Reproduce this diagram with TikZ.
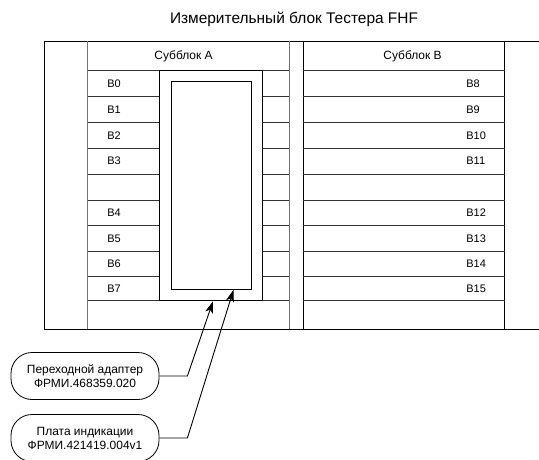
\documentclass[tikz,border=0pt]{standalone}
\usepackage{fontspec}
\setmainfont{Liberation Sans}
\usetikzlibrary{arrows.meta}
\begin{document}
\begin{tikzpicture}[x=1bp,y=-1bp,line width=0.8bp,
  frame/.style={draw=black,line width=0.9bp},
  gridv/.style={draw=black!55,line width=0.9bp},
  gridh/.style={draw=black!80,line width=0.8bp},
  lbl/.style={inner sep=0pt,font=\fontsize{11}{13}\selectfont},
  hdr/.style={inner sep=0pt,anchor=base,font=\fontsize{12}{14}\selectfont},
  plate/.style={draw=black,fill=white,line width=1.1bp,inner sep=0pt},
  bubble/.style={draw=black,line width=0.8bp,rounded corners=21bp,minimum width=148bp,minimum height=47bp,inner sep=0pt,align=center,font=\fontsize{12}{14}\selectfont},
  arr/.style={draw=black,line width=0.9bp,-{Stealth[length=12bp,width=8bp,inset=3bp]}}]
\useasboundingbox (0,0) rectangle (539,460);
% title
\node[inner sep=0pt,anchor=base,font=\fontsize{15.5}{18}\selectfont] (title) at (294,24) {Измерительный блок Тестера FHF};
% outer frame (open to the right)
\draw[frame] (539,41) -- (44.7,41) -- (44.7,329) -- (539,329);
% column borders
\draw[gridv] (87.7,41) -- (87.7,329);
\draw[gridv] (289.3,41) -- (289.3,329);
\draw[frame] (303.3,41) -- (303.3,329);
\draw[frame] (504.7,41) -- (504.7,329);
% row lines
\foreach \yy in {70.7,96.3,122.3,148,174,200,225.7,251.7,276,300.7}{
  \draw[gridh] (87.7,\yy) -- (289.3,\yy);
  \draw[gridh] (303.3,\yy) -- (504.7,\yy);
}
% headers
\node[hdr] (hA) at (183.5,60) {Субблок A};
\node[hdr] (hB) at (412.5,60) {Субблок B};
% labels left
\foreach \n/\yy in {0/87.4,1/113.2,2/139.05,3/164.9,4/216.75,5/242.6,6/267.75,7/292.25}{
  \node[lbl,anchor=base west] (b\n) at (107,\yy) {B\n};
}
% labels right
\foreach \n/\yy in {8/87.4,9/113.2,10/139.05,11/164.9,12/216.75,13/242.6,14/267.75,15/292.25}{
  \node[lbl,anchor=base west] (b\n) at (466,\yy) {B\n};
}
% adapter and indication board
\node[plate,minimum width=103.4bp,minimum height=230bp] (adapter) at (211,185.7) {};
\node[plate,minimum width=80.4bp,minimum height=207.6bp] (board) at (211.5,185.5) {};
% callouts
\node[bubble] (bub1) at (85,376) {Переходной адаптер\\ФРМИ.468359.020};
\node[bubble] (bub2) at (85,438) {Плата индикации\\ФРМИ.421419.004v1};
\path (adapter.south) ++(2,0) coordinate (t1);
\path (board.south) ++(22,0) coordinate (t2);
\draw[arr] (bub1.east) -- ++(28,0) -- (t1);
\draw[arr] (bub2.east) -- ++(28,0) -- (t2);
\end{tikzpicture}
\end{document}
